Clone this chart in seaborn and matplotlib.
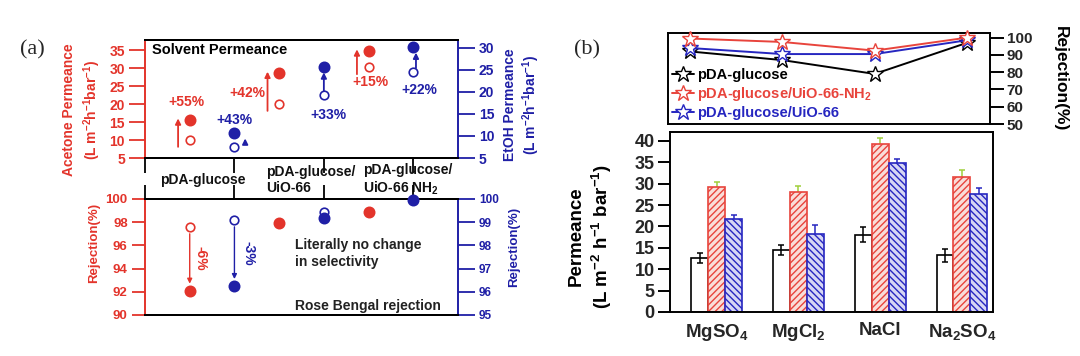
import numpy as np
import pandas as pd
import matplotlib
matplotlib.use("Agg")
import matplotlib.pyplot as plt
import matplotlib.transforms as mtransforms
import seaborn as sns

sns.set_theme(style="white")
plt.rcParams['font.family'] = ['Liberation Sans', 'DejaVu Sans']
plt.rcParams['font.weight'] = 'bold'
plt.rcParams['axes.labelweight'] = 'bold'
plt.rcParams['mathtext.fontset'] = 'custom'
plt.rcParams['mathtext.rm'] = 'Liberation Sans:bold'
plt.rcParams['mathtext.bf'] = 'Liberation Sans:bold'
plt.rcParams['mathtext.it'] = 'Liberation Sans:bold:italic'
plt.rcParams['hatch.linewidth'] = 1.0

# ---------------- data: panel (a) ----------------
membranes = ["pDA-glucose", "pDA-glucose/\nUiO-66", "pDA-glucose/\nUiO-66 NH$_2$"]
acetone_pristine = [10.1, 20.1, 30.3]
acetone_treated = [15.5, 28.5, 34.7]
acetone_gain = ["+55%", "+42%", "+15%"]
etoh_pristine = [7.5, 19.2, 24.5]
etoh_treated = [10.7, 25.7, 30.2]
etoh_gain = ["+43%", "+33%", "+22%"]
rb_acetone_pristine = [97.6, 97.9, 98.9]
rb_acetone_treated = [92.1, 97.9, 98.9]
rb_etoh_pristine = [99.1, 99.45, 99.95]
rb_etoh_treated = [96.25, 99.2, 99.95]
rb_drop_acetone = "-6%"
rb_drop_etoh = "-3%"
acetone_ticks = [5, 10, 15, 20, 25, 30, 35]
etoh_ticks = [5, 10, 15, 20, 25, 30]
rej_red_ticks = [90, 92, 94, 96, 98, 100]
rej_blue_ticks = [95, 96, 97, 98, 99, 100]

# ---------------- data: panel (b) ----------------
salts = ["MgSO$_4$", "MgCl$_2$", "NaCl", "Na$_2$SO$_4$"]
series_b = ["pDA-glucose", "pDA-glucose/UiO-66-NH$_2$", "pDA-glucose/UiO-66"]
perm_glucose = [12.6, 14.5, 18.1, 13.3]
perm_nh2 = [29.3, 28.1, 39.3, 31.6]
perm_uio = [21.8, 18.3, 34.9, 27.6]
err_glucose = [1.1, 1.2, 1.8, 1.5]
err_nh2 = [1.2, 1.3, 1.5, 1.5]
err_uio = [1.0, 2.0, 1.0, 1.3]
rej_glucose = [92, 87, 79, 97]
rej_nh2 = [99.5, 97.5, 92.5, 100]
rej_uio = [94, 90.5, 90.5, 98.5]
perm_ticks = [0, 5, 10, 15, 20, 25, 30, 35, 40]
rej_ticks_b = [50, 60, 70, 80, 90, 100]

RED = "#e3342b"
BLUE = "#1f1fa6"
RED_B = "#e8443c"
BLUE_B = "#2626c0"
LIME = "#9fd03a"

W, H = 1080, 356
fig = plt.figure(figsize=(W / 100, H / 100), dpi=100)
fig.patch.set_facecolor("white")


def rect(l, t, r, b):
    return [l / W, 1 - b / H, (r - l) / W, (b - t) / H]


ax_up = fig.add_axes(rect(145, 40, 458, 158))
ax_up_r = ax_up.twinx()
ax_lo = fig.add_axes(rect(145, 199, 458, 315))
ax_lo_r = ax_lo.twinx()
ax_line = fig.add_axes(rect(668, 33, 990, 124))
ax_bar = fig.add_axes(rect(670, 132, 993, 312))


def dots(ax, x, y, color, filled, size):
    sns.scatterplot(x=x, y=y, ax=ax, color=color, s=size, marker='o',
                    facecolor=color if filled else 'white', edgecolor=color,
                    linewidth=1.2, zorder=4, clip_on=False, legend=False)


idx = np.arange(len(membranes))
x_acetone = idx + 0.5
x_etoh = idx + 1.0

# ---------- panel (a) upper: solvent permeance ----------
dots(ax_up, x_acetone, acetone_pristine, RED, False, 38)
dots(ax_up, x_acetone, acetone_treated, RED, True, 55)
dots(ax_up_r, x_etoh, etoh_pristine, BLUE, False, 38)
dots(ax_up_r, x_etoh, etoh_treated, BLUE, True, 55)

for xi, a, b in zip(x_acetone, acetone_pristine, acetone_treated):
    ax_up.annotate("", xy=(xi - 0.13, b + 0.5), xytext=(xi - 0.13, a - 2),
                   arrowprops=dict(arrowstyle='-|>', color=RED, lw=1.3,
                                   mutation_scale=8, shrinkA=0, shrinkB=0))
blue_arrow_dx = [0.12, 0.0, 0.03]
for xi, a, b, dx in zip(x_etoh, etoh_pristine, etoh_treated, blue_arrow_dx):
    ax_up_r.annotate("", xy=(xi + dx, b), xytext=(xi + dx, a),
                     arrowprops=dict(arrowstyle='-|>', color=BLUE, lw=1.3,
                                     mutation_scale=8, shrinkA=3, shrinkB=4))

red_label_off = [(-2, 13), (-23, -14), (1, -22)]
for xi, b, lab, off in zip(x_acetone, acetone_treated, acetone_gain, red_label_off):
    ax_up.annotate(lab, xy=(xi, b), xytext=off, textcoords='offset points',
                   ha='center', va='center', color=RED, fontsize=10)
blue_label_off = [(0, 9), (3, -35), (4, -31)]
for xi, b, lab, off in zip(x_etoh, etoh_treated, etoh_gain, blue_label_off):
    ax_up_r.annotate(lab, xy=(xi, b), xytext=off, textcoords='offset points',
                     ha='center', va='center', color=BLUE, fontsize=10)

ax_up.text(0.022, 0.915, "Solvent Permeance", transform=ax_up.transAxes,
           ha='left', va='center', fontsize=10.5, color='black')

# ---------- panel (a) lower: Rose Bengal rejection ----------
dots(ax_lo, x_acetone, rb_acetone_pristine, RED, False, 38)
dots(ax_lo, x_acetone, rb_acetone_treated, RED, True, 55)
dots(ax_lo_r, x_etoh, rb_etoh_pristine, BLUE, False, 38)
dots(ax_lo_r, x_etoh, rb_etoh_treated, BLUE, True, 55)

ax_lo.annotate("", xy=(x_acetone[0], rb_acetone_treated[0]),
               xytext=(x_acetone[0], rb_acetone_pristine[0]),
               arrowprops=dict(arrowstyle='-|>', color=RED, lw=1.0,
                               mutation_scale=7, shrinkA=5, shrinkB=5))
ax_lo.annotate(rb_drop_acetone,
               xy=(x_acetone[0], (rb_acetone_pristine[0] + rb_acetone_treated[0]) / 2),
               xytext=(8, 0), textcoords='offset points', rotation=-90,
               ha='center', va='center', color=RED, fontsize=10)
ax_lo_r.annotate("", xy=(x_etoh[0], rb_etoh_treated[0]),
                 xytext=(x_etoh[0], rb_etoh_pristine[0]),
                 arrowprops=dict(arrowstyle='-|>', color=BLUE, lw=1.0,
                                 mutation_scale=7, shrinkA=5, shrinkB=5))
ax_lo_r.annotate(rb_drop_etoh,
                 xy=(x_etoh[0], (rb_etoh_pristine[0] + rb_etoh_treated[0]) / 2),
                 xytext=(10, 0), textcoords='offset points', rotation=-90,
                 ha='center', va='center', color=BLUE, fontsize=10)

ax_lo.text(0.48, 0.53, "Literally no change\nin selectivity", transform=ax_lo.transAxes,
           ha='left', va='center', fontsize=10, color='#222222', linespacing=1.25)
ax_lo.text(0.48, 0.08, "Rose Bengal rejection", transform=ax_lo.transAxes,
           ha='left', va='center', fontsize=10, color='#222222')

# ---------- axes styling panel (a) ----------
for ax, axr, lt, rt, llim, rlim, lsz, rsz, tl in [
        (ax_up, ax_up_r, acetone_ticks, etoh_ticks, (5, 37.8), (5, 31.8), 10, 10, 11.5),
        (ax_lo, ax_lo_r, rej_red_ticks, rej_blue_ticks, (90, 100), (95, 100), 9.5, 8.5, 9.5)]:
    ax.set_xlim(0, len(membranes) + 0.5)
    ax.set_ylim(*llim)
    axr.set_ylim(*rlim)
    ax.set_yticks(lt)
    axr.set_yticks(rt)
    ax.tick_params(axis='y', left=True, direction='out', length=tl, width=1.3,
                   colors=RED, labelsize=lsz, pad=3)
    axr.tick_params(axis='y', right=True, direction='out', length=12, width=1.3,
                    colors=BLUE, labelsize=rsz, pad=3)
    ax.spines['left'].set_color(RED)
    ax.spines['right'].set_visible(False)
    axr.spines['left'].set_visible(False)
    axr.spines['right'].set_color(BLUE)
    for a in (ax, axr):
        for s in a.spines.values():
            s.set_linewidth(1.4)
        a.spines['top'].set_color('black')
        a.spines['bottom'].set_color('black')
    ax.set_xticks(np.arange(len(membranes) + 1))

ax_up.tick_params(axis='x', bottom=True, top=False, direction='out', length=11,
                  width=1.3, color='black', labelbottom=False)
ax_lo.tick_params(axis='x', bottom=False, top=True, direction='out', length=10,
                  width=1.3, color='black', labelbottom=False, labeltop=False)

band_x = [0.17, 1.35, 2.44]
band_tr = mtransforms.blended_transform_factory(ax_up.transData, ax_up.transAxes)
for bx, lab in zip(band_x, membranes):
    ax_up.text(bx, -0.185, lab, transform=band_tr, ha='left', va='center',
               fontsize=10, color='#111111', linespacing=1.15)

ax_up.set_ylabel("Acetone Permeance\n(L m$^{-2}$h$^{-1}$bar$^{-1}$)", color=RED,
                 fontsize=10, linespacing=1.3)
ax_up.yaxis.set_label_coords(-0.2, 0.41)
ax_up.yaxis.label.set_va('center')
ax_up_r.set_ylabel("EtOH Permeance\n(L m$^{-2}$h$^{-1}$bar$^{-1}$)", color=BLUE,
                   fontsize=10, linespacing=1.2, rotation=90)
ax_up_r.yaxis.set_label_coords(1.205, 0.45)
ax_up_r.yaxis.label.set_va('center')
ax_lo.set_ylabel("Rejection(%)", color=RED, fontsize=9.5)
ax_lo.yaxis.set_label_coords(-0.163, 0.62)
ax_lo.yaxis.label.set_va('center')
ax_lo_r.set_ylabel("Rejection(%)", color=BLUE, fontsize=9.5, rotation=90)
ax_lo_r.yaxis.set_label_coords(1.18, 0.59)
ax_lo_r.yaxis.label.set_va('center')

# ---------- panel (b) bars ----------
df = pd.DataFrame({
    "salt": salts * len(series_b),
    "membrane": np.repeat(series_b, len(salts)),
    "perm": perm_glucose + perm_nh2 + perm_uio,
})
sns.barplot(data=df, x="salt", y="perm", hue="membrane", order=salts,
            hue_order=series_b, ax=ax_bar, errorbar=None, width=0.62,
            palette=["white", RED_B, BLUE_B], legend=False)

bar_styles = [
    dict(facecolor="white", edgecolor="black", hatch=None),
    dict(facecolor="#f9ddd8", edgecolor=RED_B, hatch="/////"),
    dict(facecolor="#d6d6f4", edgecolor=BLUE_B, hatch="\\\\\\\\\\"),
]
err_sets = [(err_glucose, "black", 3), (err_nh2, LIME, 0.5), (err_uio, BLUE_B, 0.5)]
for cont, st, (errs, ecol, ez) in zip(ax_bar.containers, bar_styles, err_sets):
    xs, ys = [], []
    for p in cont:
        p.set_facecolor(st["facecolor"])
        p.set_edgecolor(st["edgecolor"])
        p.set_linewidth(1.2)
        p.set_zorder(1)
        if st["hatch"]:
            p.set_hatch(st["hatch"])
        xs.append(p.get_x() + p.get_width() / 2)
        ys.append(p.get_height())
    ax_bar.errorbar(xs, ys, yerr=errs, fmt='none', ecolor=ecol, elinewidth=1.1,
                    capsize=2.5, capthick=1.1, zorder=ez)

ax_bar.set_xlim(-0.57, len(salts) - 1 + 0.38)
ax_bar.set_ylim(0, 42.1)
ax_bar.set_yticks(perm_ticks)
ax_bar.set_xlabel("")
ax_bar.tick_params(axis='y', left=True, direction='out', length=9, width=1.4,
                   labelsize=13, color='black', pad=2)
ax_bar.tick_params(axis='x', bottom=False, labelsize=13.5, pad=1)
for s in ax_bar.spines.values():
    s.set_color('black')
    s.set_linewidth(1.4)
ax_bar.set_ylabel("Permeance\n(L m$^{-2}$ h$^{-1}$ bar$^{-1}$)", fontsize=13.5,
                  color='black', linespacing=1.25)
ax_bar.yaxis.set_label_coords(-0.245, 0.42)
ax_bar.yaxis.label.set_va('center')

# ---------- panel (b) rejection lines ----------
xb = np.arange(len(salts))
line_sets = [(rej_glucose, "black", 2), (rej_nh2, RED_B, 4), (rej_uio, BLUE_B, 3)]
for (vals, col, z), name in zip(line_sets, series_b):
    sns.lineplot(x=xb, y=vals, ax=ax_line, color=col, lw=1.4, marker='*',
                 markersize=12, markerfacecolor='white', markeredgecolor=col,
                 markeredgewidth=1.0, zorder=z, label=name, clip_on=False)
leg = ax_line.legend(loc='lower left', frameon=False, fontsize=10.5,
                     handlelength=1.5, labelspacing=0.22, borderpad=0.15,
                     handletextpad=0.25, borderaxespad=0.1)
for txt, (vals, col, z) in zip(leg.get_texts(), line_sets):
    txt.set_color(col)

ax_line.set_xlim(-0.24, len(salts) - 1 + 0.25)
ax_line.set_ylim(50, 102.7)
ax_line.set_xticks([])
ax_line.set_yticks(rej_ticks_b)
ax_line.yaxis.tick_right()
ax_line.tick_params(axis='y', right=True, left=False, direction='out', length=10,
                    width=1.4, labelsize=11, color='black', pad=2)
for s in ax_line.spines.values():
    s.set_color('black')
    s.set_linewidth(1.4)
ax_line.yaxis.set_label_position('right')
ax_line.set_ylabel("Rejection(%)", fontsize=12.5, rotation=270, color='black')
ax_line.yaxis.set_label_coords(1.22, 0.5)
ax_line.yaxis.label.set_va('center')

# ---------- panel letters ----------
fig.text(20 / W, 1 - 50 / H, "(a)", family='Liberation Serif', weight='normal',
         fontsize=16, ha='left', va='center')
fig.text(574 / W, 1 - 50 / H, "(b)", family='Liberation Serif', weight='normal',
         fontsize=16, ha='left', va='center')

fig.savefig("out.png", dpi=100, facecolor="white")
